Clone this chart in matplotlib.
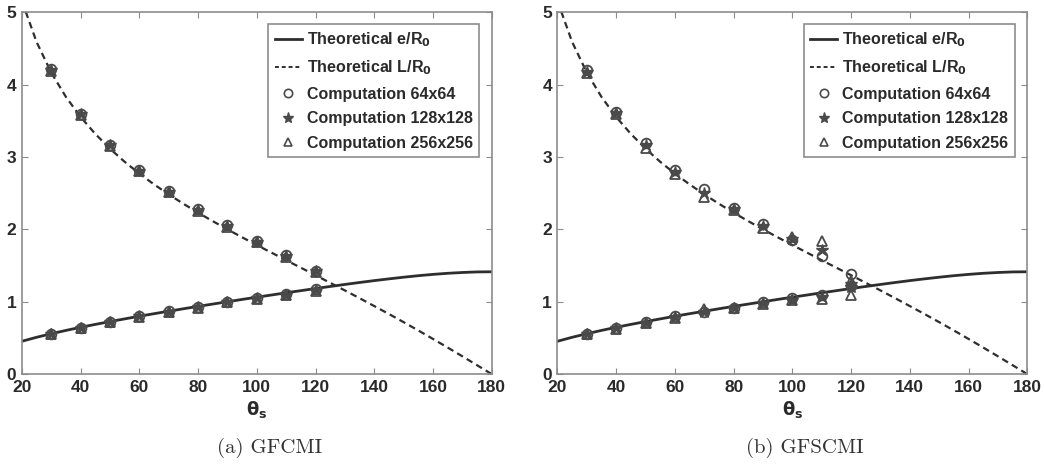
import matplotlib.pyplot as plt
from matplotlib.lines import Line2D

# Curvas teoricas (paso de 5 grados)
theta_th = [20, 25, 30, 35, 40, 45, 50, 55, 60, 65, 70, 75, 80, 85, 90, 95, 100,
            105, 110, 115, 120, 125, 130, 135, 140, 145, 150, 155, 160, 165, 170, 175, 180]
e_th = [0.454, 0.509, 0.558, 0.604, 0.647, 0.687, 0.726, 0.763, 0.800, 0.835, 0.869,
        0.903, 0.936, 0.968, 1.000, 1.032, 1.063, 1.093, 1.124, 1.153, 1.183, 1.211,
        1.239, 1.266, 1.292, 1.316, 1.339, 1.360, 1.378, 1.393, 1.404, 1.412, 1.414]
L_th = [5.153, 4.588, 4.164, 3.829, 3.552, 3.318, 3.114, 2.933, 2.770, 2.621, 2.483,
        2.353, 2.230, 2.113, 2.000, 1.890, 1.783, 1.678, 1.573, 1.470, 1.366, 1.261,
        1.156, 1.049, 0.940, 0.830, 0.718, 0.603, 0.486, 0.367, 0.246, 0.123, 0.0]

# Puntos de calculo
theta_c = [30, 40, 50, 60, 70, 80, 90, 100, 110, 120]

# (a) GFCMI
a_e_64 = [0.56, 0.64, 0.72, 0.80, 0.87, 0.93, 0.99, 1.05, 1.11, 1.17]
a_e_128 = [0.56, 0.64, 0.72, 0.80, 0.86, 0.93, 0.99, 1.05, 1.10, 1.16]
a_e_256 = [0.56, 0.64, 0.72, 0.79, 0.86, 0.92, 0.99, 1.04, 1.10, 1.15]
a_L_64 = [4.22, 3.60, 3.17, 2.82, 2.53, 2.28, 2.06, 1.84, 1.64, 1.43]
a_L_128 = [4.20, 3.59, 3.16, 2.81, 2.52, 2.27, 2.04, 1.83, 1.63, 1.42]
a_L_256 = [4.19, 3.58, 3.15, 2.80, 2.51, 2.26, 2.03, 1.82, 1.62, 1.41]

# (b) GFSCMI
b_e_64 = [0.56, 0.64, 0.72, 0.80, 0.86, 0.92, 0.99, 1.05, 1.10, 1.22]
b_e_128 = [0.56, 0.64, 0.71, 0.79, 0.86, 0.92, 0.98, 1.03, 1.06, 1.20]
b_e_256 = [0.55, 0.63, 0.70, 0.77, 0.90, 0.92, 0.97, 1.02, 1.04, 1.10]
b_L_64 = [4.20, 3.62, 3.20, 2.82, 2.56, 2.30, 2.07, 1.85, 1.63, 1.39]
b_L_128 = [4.18, 3.61, 3.17, 2.79, 2.50, 2.28, 2.04, 1.86, 1.72, 1.24]
b_L_256 = [4.16, 3.60, 3.13, 2.76, 2.45, 2.27, 2.02, 1.89, 1.84, 1.29]

panels = [
    ('(a) GFCMI', a_e_64, a_e_128, a_e_256, a_L_64, a_L_128, a_L_256),
    ('(b) GFSCMI', b_e_64, b_e_128, b_e_256, b_L_64, b_L_128, b_L_256),
]

fig = plt.figure(figsize=(10.44, 4.70), dpi=100)
lefts = [0.021, 0.534]
width = 0.450

line_col = '#2e2e2e'
mk_col = '#4a4a4a'
spine_col = '#8c8c8c'

for i, (cap, e64, e128, e256, l64, l128, l256) in enumerate(panels):
    ax = fig.add_axes([lefts[i], 0.204, width, 0.770])

    ax.plot(theta_th, e_th, color=line_col, linewidth=2)
    ax.plot(theta_th, L_th, color=line_col, linewidth=1.6, linestyle=(0, (3, 2)))

    for ys in (e64, l64):
        ax.plot(theta_c, ys, 'o', markersize=7, markerfacecolor='none',
                markeredgecolor=mk_col, markeredgewidth=1.3)
    for ys in (e128, l128):
        ax.plot(theta_c, ys, '*', markersize=9, color=mk_col)
    for ys in (e256, l256):
        ax.plot(theta_c, ys, '^', markersize=7, markerfacecolor='none',
                markeredgecolor=mk_col, markeredgewidth=1.3)

    ax.set_xlim(20, 180)
    ax.set_ylim(0, 5)
    ax.set_xticks([20, 40, 60, 80, 100, 120, 140, 160, 180])
    ax.set_yticks([0, 1, 2, 3, 4, 5])
    ax.tick_params(direction='in', top=True, right=True, length=4,
                   color=spine_col, labelsize=12.5, pad=4)
    for lab in ax.get_xticklabels() + ax.get_yticklabels():
        lab.set_fontweight('bold')
        lab.set_fontfamily('Liberation Sans')
        lab.set_color('#2a2a2a')
    for sp in ax.spines.values():
        sp.set_color(spine_col)
        sp.set_linewidth(1.2)

    ax.set_xlabel(r'$\mathbf{\theta_s}$', fontsize=13, labelpad=3, color='#2a2a2a')

    handles = [
        Line2D([], [], color=line_col, linewidth=2),
        Line2D([], [], color=line_col, linewidth=1.4, linestyle=(0, (2, 1.5))),
        Line2D([], [], marker='o', linestyle='none', markersize=6,
               markerfacecolor='none', markeredgecolor=mk_col, markeredgewidth=1.2),
        Line2D([], [], marker='*', linestyle='none', markersize=8, color=mk_col),
        Line2D([], [], marker='^', linestyle='none', markersize=6,
               markerfacecolor='none', markeredgecolor=mk_col, markeredgewidth=1.2),
    ]
    labels = [r'Theoretical e/R$_\mathbf{0}$', r'Theoretical L/R$_\mathbf{0}$',
              'Computation 64x64', 'Computation 128x128', 'Computation 256x256']
    leg = ax.legend(handles, labels, loc='upper right', bbox_to_anchor=(0.99, 0.99),
                    fancybox=False, edgecolor=spine_col, framealpha=1,
                    handlelength=1.7, handletextpad=0.3, labelspacing=0.6,
                    borderpad=0.4, prop={'family': 'Liberation Sans',
                                         'weight': 'bold', 'size': 11.5})
    leg.get_frame().set_linewidth(1.2)
    for t in leg.get_texts():
        t.set_color('#2a2a2a')

    fig.text(lefts[i] + width / 2 + 0.012, 0.048, cap, ha='center', va='center',
             fontsize=15, family='cmr10', color='#333333')

plt.savefig('out.png', dpi=100)
